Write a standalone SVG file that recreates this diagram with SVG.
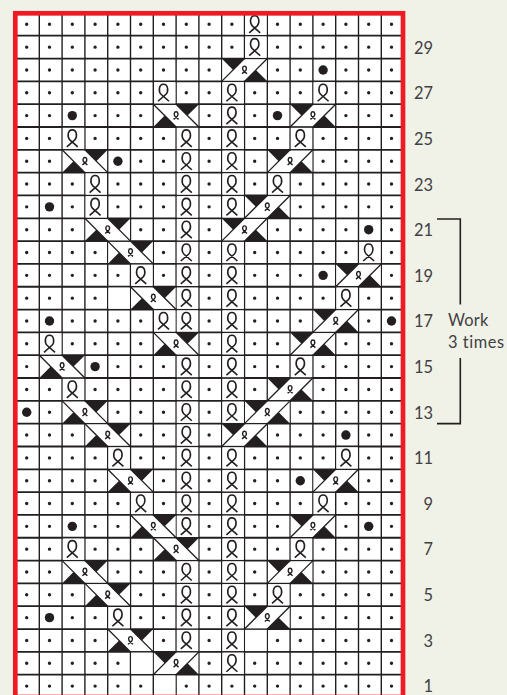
<svg xmlns="http://www.w3.org/2000/svg" xmlns:xlink="http://www.w3.org/1999/xlink" width="507" height="695" viewBox="0 0 507 695">
<style>
.d{stroke:#231f20;stroke-width:3.4;stroke-linecap:round;stroke-dasharray:0 22.8;fill:none}
.gv{stroke:#231f20;stroke-width:1.4;fill:none}
.gh{stroke:#231f20;stroke-width:1.8;fill:none}
.lp{fill:none;stroke:#231f20;stroke-width:1.6}
.t{fill:#231f20}
.x{stroke:#231f20;stroke-width:1.3;fill:none}
text{font-family:"Lato","Open Sans",sans-serif;font-size:16.4px;fill:#414042}
.n{text-anchor:end}
.br{fill:none;stroke:#231f20;stroke-width:1.6}
</style>
<defs>
<path id="lg" d="M-5.5 8.5L2.5 1.5C5 -1 5 -8.5 0 -8.5C-5 -8.5 -5 -1 -2.5 1.5L5.5 8.5"/>
<g id="L"><rect x="-9.5" y="-10.6" width="21.4" height="21.2" fill="#fff"/><use href="#lg" class="lp"/></g>
<g id="B"><rect x="0.6" y="-10.6" width="44.4" height="21.2" fill="#fff"/><path class="t" d="M0 11.4H22.8L11.4 0ZM22.8 -11.4H45.6L34.2 0Z"/><path class="x" d="M0 -11.4L22.8 11.4M22.8 -11.4L45.6 11.4"/><use href="#lg" transform="translate(22.8,0) scale(.45)" fill="none" stroke="#231f20" stroke-width="3.2"/></g>
<g id="F"><rect x="0.6" y="-10.6" width="44.4" height="21.2" fill="#fff"/><path class="t" d="M0 -11.4H22.8L11.4 0ZM22.8 11.4H45.6L34.2 0Z"/><path class="x" d="M0 11.4L22.8 -11.4M22.8 11.4L45.6 -11.4"/><use href="#lg" transform="translate(22.8,0) scale(.45)" fill="none" stroke="#231f20" stroke-width="3.2"/></g>
<circle id="O" r="4.7" fill="#231f20"/>
<rect id="E" x="-9.5" y="-10.6" width="21.4" height="21.2" fill="#fff"/>
</defs>
<rect width="507" height="695" fill="#f0f1e7"/>
<rect x="15" y="13" width="388" height="684" fill="#fff"/>
<g id="dots">
<path class="d" d="M26.7 24.31H400"/><path class="d" d="M26.7 47.13H400"/><path class="d" d="M26.7 69.95H400"/><path class="d" d="M26.7 92.77H400"/><path class="d" d="M26.7 115.59H400"/><path class="d" d="M26.7 138.41H400"/><path class="d" d="M26.7 161.23H400"/><path class="d" d="M26.7 184.05H400"/><path class="d" d="M26.7 206.87H400"/><path class="d" d="M26.7 229.69H400"/><path class="d" d="M26.7 252.51H400"/><path class="d" d="M26.7 275.33H400"/><path class="d" d="M26.7 298.15H400"/><path class="d" d="M26.7 320.97H400"/><path class="d" d="M26.7 343.79H400"/><path class="d" d="M26.7 366.61H400"/><path class="d" d="M26.7 389.43H400"/><path class="d" d="M26.7 412.25H400"/><path class="d" d="M26.7 435.07H400"/><path class="d" d="M26.7 457.89H400"/><path class="d" d="M26.7 480.71H400"/><path class="d" d="M26.7 503.53H400"/><path class="d" d="M26.7 526.35H400"/><path class="d" d="M26.7 549.17H400"/><path class="d" d="M26.7 571.99H400"/><path class="d" d="M26.7 594.81H400"/><path class="d" d="M26.7 617.63H400"/><path class="d" d="M26.7 640.45H400"/><path class="d" d="M26.7 663.27H400"/><path class="d" d="M26.7 686.09H400"/>
</g>
<g id="grid">
<path class="gv" d="M39.3 13V695M62.1 13V695M84.9 13V695M107.7 13V695M130.5 13V695M153.3 13V695M176.1 13V695M198.9 13V695M221.7 13V695M244.5 13V695M267.3 13V695M290.1 13V695M312.9 13V695M335.7 13V695M358.5 13V695M381.3 13V695"/>
<path class="gh" d="M15 35.72H403M15 58.54H403M15 81.36H403M15 104.18H403M15 127H403M15 149.82H403M15 172.64H403M15 195.46H403M15 218.28H403M15 241.1H403M15 263.92H403M15 286.74H403M15 309.56H403M15 332.38H403M15 355.2H403M15 378.02H403M15 400.84H403M15 423.66H403M15 446.48H403M15 469.3H403M15 492.12H403M15 514.94H403M15 537.76H403M15 560.58H403M15 583.4H403M15 606.22H403M15 629.04H403M15 651.86H403M15 674.68H403"/>
</g>
<g id="symbols">
<g transform="translate(0,24.31)"><use href="#L" x="254.7"/></g>
<g transform="translate(0,47.13)"><use href="#L" x="254.7"/></g>
<g transform="translate(0,69.95)"><use href="#F" x="221.7"/><use href="#O" x="323.1"/></g>
<g transform="translate(0,92.77)"><use href="#L" x="163.5"/><use href="#L" x="231.9"/><use href="#L" x="323.1"/></g>
<g transform="translate(0,115.59)"><use href="#O" x="72.3"/><use href="#B" x="153.3"/><use href="#L" x="231.9"/><use href="#O" x="277.5"/><use href="#F" x="290.1"/></g>
<g transform="translate(0,138.41)"><use href="#L" x="72.3"/><use href="#L" x="186.3"/><use href="#L" x="231.9"/><use href="#L" x="300.3"/></g>
<g transform="translate(0,161.23)"><use href="#B" x="62.1"/><use href="#O" x="117.9"/><use href="#L" x="186.3"/><use href="#L" x="231.9"/><use href="#F" x="267.3"/></g>
<g transform="translate(0,184.05)"><use href="#L" x="95.1"/><use href="#L" x="186.3"/><use href="#L" x="231.9"/><use href="#L" x="277.5"/></g>
<g transform="translate(0,206.87)"><use href="#O" x="49.5"/><use href="#L" x="95.1"/><use href="#L" x="186.3"/><use href="#L" x="231.9"/><use href="#F" x="244.5"/></g>
<g transform="translate(0,229.69)"><use href="#B" x="84.9"/><use href="#L" x="186.3"/><use href="#F" x="221.7"/><use href="#O" x="368.7"/></g>
<g transform="translate(0,252.51)"><use href="#B" x="107.7"/><use href="#L" x="186.3"/><use href="#L" x="231.9"/><use href="#L" x="368.7"/></g>
<g transform="translate(0,275.33)"><use href="#L" x="140.7"/><use href="#L" x="186.3"/><use href="#L" x="231.9"/><use href="#O" x="323.1"/><use href="#F" x="335.7"/></g>
<g transform="translate(0,298.15)"><use href="#E" x="117.9"/><use href="#B" x="130.5"/><use href="#L" x="186.3"/><use href="#L" x="231.9"/><use href="#L" x="345.9"/></g>
<g transform="translate(0,320.97)"><use href="#O" x="49.5"/><use href="#L" x="163.5"/><use href="#L" x="186.3"/><use href="#L" x="231.9"/><use href="#F" x="312.9"/><use href="#O" x="391.5"/></g>
<g transform="translate(0,343.79)"><use href="#L" x="49.5"/><use href="#B" x="153.3"/><use href="#L" x="231.9"/><use href="#F" x="290.1"/></g>
<g transform="translate(0,366.61)"><use href="#B" x="39.3"/><use href="#O" x="95.1"/><use href="#L" x="186.3"/><use href="#L" x="231.9"/><use href="#L" x="300.3"/></g>
<g transform="translate(0,389.43)"><use href="#L" x="72.3"/><use href="#L" x="186.3"/><use href="#L" x="231.9"/><use href="#F" x="267.3"/></g>
<g transform="translate(0,412.25)"><use href="#O" x="26.7"/><use href="#B" x="62.1"/><use href="#L" x="186.3"/><use href="#L" x="231.9"/><use href="#F" x="244.5"/></g>
<g transform="translate(0,435.07)"><use href="#B" x="84.9"/><use href="#L" x="186.3"/><use href="#F" x="221.7"/><use href="#O" x="345.9"/></g>
<g transform="translate(0,457.89)"><use href="#L" x="117.9"/><use href="#L" x="186.3"/><use href="#L" x="231.9"/><use href="#L" x="345.9"/></g>
<g transform="translate(0,480.71)"><use href="#B" x="107.7"/><use href="#L" x="186.3"/><use href="#L" x="231.9"/><use href="#O" x="300.3"/><use href="#F" x="312.9"/></g>
<g transform="translate(0,503.53)"><use href="#L" x="140.7"/><use href="#L" x="186.3"/><use href="#L" x="231.9"/><use href="#L" x="323.1"/></g>
<g transform="translate(0,526.35)"><use href="#O" x="72.3"/><use href="#B" x="130.5"/><use href="#L" x="186.3"/><use href="#L" x="231.9"/><use href="#F" x="290.1"/><use href="#O" x="368.7"/></g>
<g transform="translate(0,549.17)"><use href="#L" x="72.3"/><use href="#B" x="153.3"/><use href="#L" x="231.9"/><use href="#L" x="300.3"/></g>
<g transform="translate(0,571.99)"><use href="#B" x="62.1"/><use href="#L" x="186.3"/><use href="#L" x="231.9"/><use href="#F" x="267.3"/></g>
<g transform="translate(0,594.81)"><use href="#B" x="84.9"/><use href="#L" x="186.3"/><use href="#L" x="231.9"/><use href="#L" x="277.5"/></g>
<g transform="translate(0,617.63)"><use href="#O" x="49.5"/><use href="#L" x="117.9"/><use href="#L" x="186.3"/><use href="#L" x="231.9"/><use href="#F" x="244.5"/></g>
<g transform="translate(0,640.45)"><use href="#B" x="107.7"/><use href="#L" x="186.3"/><use href="#L" x="231.9"/><use href="#E" x="254.7"/></g>
<g transform="translate(0,663.27)"><use href="#E" x="140.7"/><use href="#F" x="153.3"/><use href="#L" x="231.9"/></g>
<g transform="translate(0,686.09)"><use href="#E" x="163.5"/></g>
</g>
<rect id="border" x="15.3" y="13.3" width="387.7" height="683.7" fill="none" stroke="#ed1c24" stroke-width="4.7"/>
<g id="labels">
<text class="n" x="433" y="54">29</text>
<text class="n" x="433" y="99">27</text>
<text class="n" x="433" y="145">25</text>
<text class="n" x="433" y="190.5">23</text>
<text class="n" x="433" y="236">21</text>
<text class="n" x="433" y="281.6">19</text>
<text class="n" x="433" y="327.2">17</text>
<text class="n" x="433" y="372.9">15</text>
<text class="n" x="433" y="418.5">13</text>
<text class="n" x="433" y="464.2">11</text>
<text class="n" x="433" y="510">9</text>
<text class="n" x="433" y="555">7</text>
<text class="n" x="433" y="601">5</text>
<text class="n" x="433" y="647">3</text>
<text class="n" x="433" y="692.4">1</text>
<text x="448" y="326" letter-spacing=".2">Work</text>
<text x="448" y="348" letter-spacing=".55">3 times</text>
</g>
<g id="brackets">
<path class="br" d="M437 219H460.3V304.5"/>
<path class="br" d="M460.3 358V423.6H437"/>
</g>
</svg>
